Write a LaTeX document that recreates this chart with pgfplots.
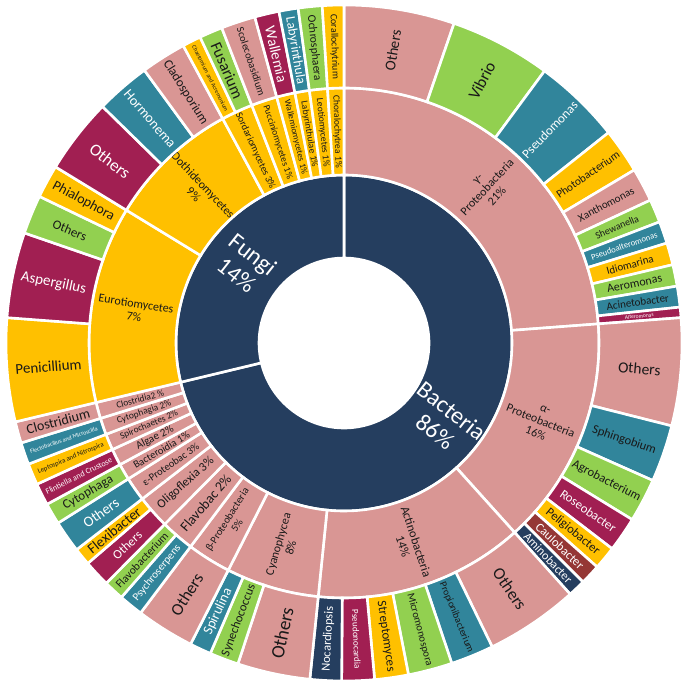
\documentclass[border=0pt]{standalone}
\usepackage{pgfplots}
\pgfplotsset{compat=1.18}
\usepackage{pgfplotstable}
\usepackage{fontspec}
\setmainfont{Carlito}

\definecolor{navy}{RGB}{37,62,95}
\definecolor{rose}{RGB}{217,150,148}
\definecolor{lime}{RGB}{146,208,80}
\definecolor{teal2}{RGB}{49,133,155}
\definecolor{wine}{RGB}{161,31,82}
\definecolor{amber}{RGB}{255,192,0}
\definecolor{brick}{RGB}{149,55,53}
\definecolor{ink}{RGB}{25,25,25}

% inner ring: start angle, end angle (clockwise from 12 o'clock)
\pgfplotstableread[col sep=comma]{
a1,a2,fill,txt,fs,label
90,-166.5,navy,white,24,{Bacteria\\86\%}
193.5,90,navy,white,24,{Fungi\\14\%}
}\innerring

\pgfplotstableread[col sep=comma]{
a1,a2,fill,txt,fs,label
90,4.3,rose,ink,12,{γ-\\Proteobacteria\\21\%}
4.3,-48,rose,ink,12,{α-\\Proteobacteria\\16\%}
-48,-95.8,rose,ink,12.5,{Actinobacteria\\14\%}
-95.8,-117,rose,ink,12,{Cyanophycea\\8\%}
-117,-127,rose,ink,10.5,{β-Proteobacteria\\5\%}
-127,-134.7,rose,ink,14,{Flavobac 2\%}
-134.7,-142.3,rose,ink,12.5,{Oligoflexia 3\%}
-142.3,-147.8,rose,ink,10.5,{ε-Proteobac 3\%}
-147.8,-151.5,rose,ink,10.5,{Bacteroidia 1\%}
-151.5,-155.3,rose,ink,11,{Algae 2\%}
-155.3,-159.0,rose,ink,9.3,{Spirochaetes 2\%}
-159.0,-162.8,rose,ink,9.5,{Cytophagia 2\%}
-162.8,-166.5,rose,ink,9.3,{Clostridia2 \%}
193.5,148.6,amber,ink,12,{Eurotiomycetes\\7\%}
148.6,118.4,amber,ink,12,{Dothideomycetes\\9\%}
118.4,111.2,amber,ink,10,{Sordariomycetes 3\%}
111.2,105.3,amber,ink,9.4,{Pucciniomycetes 1\%}
105.3,101.1,amber,ink,8.8,{Wallemiomycetes 1\%}
101.1,97.8,amber,ink,9.5,{Labyrinthulae 1\%}
97.8,93.7,amber,ink,9.4,{Leotiomycetes 1\%}
93.7,90,amber,ink,9.5,{Choralochytrea 1\%}
}\middlering

\pgfplotstableread[col sep=comma]{
a1,a2,fill,txt,fs,label
90,71,rose,ink,15,Others
71,53.6,lime,ink,16.5,Vibrio
53.6,38.5,teal2,white,13,Pseudomonas
38.5,30.8,amber,ink,11.3,Photobacterium
30.8,25,rose,ink,11,Xanthomonas
25,21,lime,ink,10,Shewanella
21,17.2,teal2,white,8.6,Pseudoalteromonas
17.2,13.4,amber,ink,11,Idiomarina
13.4,9.7,lime,ink,12,Aeromonas
9.7,6.1,teal2,ink,11,Acinetobacter
6.1,4.3,wine,white,5.5,Alteromonas
4.3,-14.2,rose,ink,15.5,Others
-14.2,-24,teal2,ink,12.5,Sphingobium
-24,-31.5,lime,ink,12.5,Agrobacterium
-31.5,-37.5,wine,white,12.8,Roseobacter
-37.5,-41.5,amber,ink,12.5,Peligiobacter
-41.5,-45,brick,white,12.5,Caulobacter
-45,-48,navy,white,12.3,Aminobacter
-48,-64,rose,ink,17,Others
-64,-71.4,teal2,ink,10,Propionibacterium
-71.4,-79,lime,ink,10.7,Micromonospora
-79,-84.8,amber,ink,12.8,Streptomyces
-84.8,-90.4,wine,white,9.2,Pseudonocardia
-90.4,-95.8,navy,white,12.5,Nocardiopsis
-95.8,-108.3,rose,ink,19,Others
-108.3,-113.3,lime,ink,12.5,Synechococcus
-113.3,-117,teal2,white,14,Spirulina
-117,-127,rose,ink,17,Others
-127,-131.2,teal2,white,11,Psychroserpens
-131.2,-134.7,lime,ink,11.4,Flavobacterium
-134.7,-139.3,wine,white,12.8,Others
-139.3,-142.3,amber,ink,14.5,Flexibacter
-142.3,-147.8,teal2,white,14.7,Others
-147.8,-151.5,lime,ink,13,Cytophaga
-151.5,-155.3,wine,white,8.2,Flintiella and Crustose
-155.3,-159.0,amber,ink,6.9,Leptospira and Nitrospira
-159.0,-162.8,teal2,white,6,Flectobacillus and Microscilla
-162.8,-166.5,rose,ink,14,Clostridium
193.5,175.7,amber,ink,15,Penicillium
175.7,161,wine,white,15,Aspergillus
161,154.3,lime,ink,13,Others
154.3,148.6,amber,ink,14,Phialophora
148.6,135.6,wine,white,17,Others
135.6,126.2,teal2,white,14,Hormonema
126.2,118.4,rose,ink,13,Cladosporium
118.4,115.2,amber,ink,5.9,Chaetomium and Acremonium
115.2,111.2,lime,ink,16,Fusarium
111.2,105.3,rose,ink,10.5,Scolecobasidium
105.3,101.1,wine,white,15,Wallemia
101.1,97.8,teal2,white,13.5,Labyrinthula
97.8,93.7,lime,ink,11.6,Ochrosphaera
93.7,90,amber,ink,10,Corallochytrium
}\outerring

% #1 table, #2 inner radius, #3 outer radius
\newcommand\drawring[3]{%
  \pgfplotstablegetrowsof{#1}%
  \pgfmathtruncatemacro\nrows{\pgfplotsretval-1}%
  \pgfplotsforeachungrouped \i in {0,...,\nrows}{%
    \pgfplotstablegetelem{\i}{a1}\of#1\let\aA\pgfplotsretval
    \pgfplotstablegetelem{\i}{a2}\of#1\let\aB\pgfplotsretval
    \pgfplotstablegetelem{\i}{fill}\of#1\let\cF\pgfplotsretval
    \pgfplotstablegetelem{\i}{txt}\of#1\let\cT\pgfplotsretval
    \pgfplotstablegetelem{\i}{fs}\of#1\let\fS\pgfplotsretval
    \pgfplotstablegetelem{\i}{label}\of#1\let\lB\pgfplotsretval
    \pgfmathsetmacro\aM{(\aA+\aB)/2}%
    \pgfmathsetmacro\rM{(#2+#3)/2}%
    \pgfmathsetmacro\rot{cos(\aM)>=0 ? \aM : \aM-180}%
    \pgfmathsetmacro\bS{\fS*1.1}%
    \pgfmathsetmacro\xo{#3*cos(\aA)}\pgfmathsetmacro\yo{#3*sin(\aA)}%
    \pgfmathsetmacro\xi{#2*cos(\aB)}\pgfmathsetmacro\yi{#2*sin(\aB)}%
    \pgfmathsetmacro\xm{\rM*cos(\aM)}\pgfmathsetmacro\ym{\rM*sin(\aM)}%
    \edef\tmp{%
      \noexpand\filldraw[overlay, fill=\cF, draw=white, line width=2.6pt]
        (axis cs:\xo,\yo) arc[start angle=\aA, end angle=\aB, radius=#3pt]
        -- (axis cs:\xi,\yi) arc[start angle=\aB, end angle=\aA, radius=#2pt] -- cycle;
      \noexpand\node[overlay, rotate=\rot, text=\cT, align=center, inner sep=0pt,
        font=\noexpand\fontsize{\fS}{\bS}\noexpand\selectfont]
        at (axis cs:\xm,\ym) {\unexpanded\expandafter{\lB}};%
    }\tmp
  }}

\begin{document}
\begin{tikzpicture}
\begin{axis}[
  x=1pt, y=1pt, disabledatascaling,
  hide axis, clip=false,
  xmin=-344, xmax=346, ymin=-344, ymax=343]
  \path (axis cs:-344,-344) rectangle (axis cs:346,343);
  \drawring{\innerring}{85}{168}
  \drawring{\middlering}{168}{255}
  \drawring{\outerring}{255}{338}
\end{axis}
\end{tikzpicture}
\end{document}
